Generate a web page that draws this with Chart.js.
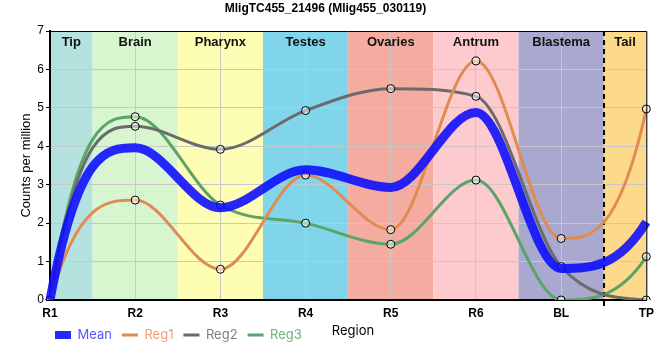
<!DOCTYPE html>
<html>
<head>
<meta charset="utf-8">
<script src="https://cdn.jsdelivr.net/npm/chart.js@4/dist/chart.umd.min.js"></script>
<style>
html,body{margin:0;padding:0;background:#fff;}
#wrap{width:660px;height:360px;position:relative;}
</style>
</head>
<body>
<div id="wrap"><canvas id="c" width="660" height="360"></canvas></div>
<script>
const categories = ["R1","R2","R3","R4","R5","R6","BL","TP"];
const reg1 = [0, 2.60, 0.80, 3.25, 1.83, 6.22, 1.60, 4.97];
const reg2 = [0, 4.52, 3.92, 4.93, 5.50, 5.30, 0.87, 0];
const reg3 = [0, 4.77, 2.47, 2.00, 1.45, 3.12, 0, 1.13];
const meanVals = [0, 3.96, 2.40, 3.39, 2.93, 4.88, 0.82, 2.03];
const regionNames = ["Tip","Brain","Pharynx","Testes","Ovaries","Antrum","Blastema","Tail"];
const regionColors = ["#b4e2de","#d7f5cf","#fefdb4","#80d5eb","#f5aca0","#fdcbcd","#a9a9cf","#fdd98b"];
const yTicks = [0,1,2,3,4,5,6,7];

// end-segment tangent rule: m_end = 3*chord - m_adjacent (applied to library-computed bezier points)
const endTangentPlugin = {
  id: 'endTangent',
  beforeDatasetsDraw(chart) {
    chart.data.datasets.forEach((ds, di) => {
      const meta = chart.getDatasetMeta(di);
      const line = meta.dataset;
      if (!line) return;
      line.updateControlPoints(chart.chartArea, 'x');
      const p = meta.data;
      const n = p.length;
      if (n < 3) return;
      const slopeAt = (q) => (q.cp2x - q.cp1x) !== 0 ? (q.cp2y - q.cp1y) / (q.cp2x - q.cp1x) : 0;
      // start
      {
        const a = p[0], b = p[1];
        const h = b.x - a.x;
        const chord = (b.y - a.y) / h;
        const m0 = 3 * chord - slopeAt(b);
        a.cp2x = a.x + h / 3;
        a.cp2y = a.y + m0 * h / 3;
      }
      // end
      {
        const a = p[n - 2], b = p[n - 1];
        const h = b.x - a.x;
        const chord = (b.y - a.y) / h;
        const m1 = 3 * chord - slopeAt(a);
        b.cp1x = b.x - h / 3;
        b.cp1y = b.y - m1 * h / 3;
      }
      line._path = undefined;
    });
  }
};

const bandsPlugin = {
  id: 'bands',
  beforeDraw(chart) {
    const {ctx, chartArea: a, scales: {x}} = chart;
    ctx.save();
    const n = categories.length;
    for (let i = 0; i < regionNames.length; i++) {
      const l = i === 0 ? a.left : x.getPixelForValue(i - 0.5);
      const r = i === n - 1 ? a.right : x.getPixelForValue(i + 0.5);
      ctx.fillStyle = regionColors[i];
      ctx.fillRect(l, a.top, r - l, a.bottom - a.top);
    }
    ctx.restore();
  },
  beforeDatasetsDraw(chart) {
    const {ctx, chartArea: a, scales: {x}} = chart;
    const n = categories.length;
    ctx.save();
    ctx.font = 'bold 13px "Liberation Sans", Arial, sans-serif';
    ctx.fillStyle = '#111';
    ctx.textAlign = 'center';
    ctx.textBaseline = 'middle';
    for (let i = 0; i < regionNames.length; i++) {
      const l = i === 0 ? a.left : x.getPixelForValue(i - 0.5);
      const r = i === n - 1 ? a.right : x.getPixelForValue(i + 0.5);
      ctx.fillText(regionNames[i], (l + r) / 2, a.top + 11);
    }
    const dx = Math.round(x.getPixelForValue(n - 1.5));
    ctx.strokeStyle = '#000';
    ctx.lineWidth = 2;
    ctx.setLineDash([5, 4]);
    ctx.beginPath();
    ctx.moveTo(dx, a.top);
    ctx.lineTo(dx, a.bottom + 6);
    ctx.stroke();
    ctx.restore();
  },
  afterDraw(chart) {
    const {ctx, chartArea: a} = chart;
    ctx.save();
    ctx.strokeStyle = '#000';
    ctx.lineWidth = 1;
    ctx.beginPath();
    ctx.moveTo(a.left, a.top + 0.5);
    ctx.lineTo(a.right + 0.5, a.top + 0.5);
    ctx.lineTo(a.right + 0.5, a.bottom);
    ctx.stroke();
    ctx.font = '13px Inter, "Noto Sans", sans-serif';
    ctx.fillStyle = '#000';
    ctx.textAlign = 'center';
    ctx.textBaseline = 'middle';
    ctx.fillText('Region', 353, 331);
    ctx.restore();
  },
  afterLayout(chart) {
    const lg = chart.legend;
    if (lg) {
      const w = lg.right - lg.left;
      lg.left = 45; lg.right = 45 + w;
      const h = lg.bottom - lg.top;
      lg.top = 318.5; lg.bottom = 318.5 + h;
    }
  }
};

const regStyle = (color) => ({
  borderColor: color,
  backgroundColor: color,
  borderWidth: 3,
  pointRadius: 4,
  pointHoverRadius: 4,
  pointBorderColor: '#000',
  pointBorderWidth: 1,
  pointBackgroundColor: 'rgba(255,255,255,0.5)',
  cubicInterpolationMode: 'monotone',
  fill: false
});

const legendTextColors = ['#5a55ff', '#f0a070', '#7f7f7f', '#6fb07f'];

new Chart(document.getElementById('c'), {
  type: 'line',
  data: {
    labels: categories,
    datasets: [
      {label: 'Mean', data: meanVals, borderColor: 'rgba(10,10,255,0.88)', backgroundColor: 'rgba(10,10,255,0.88)',
       borderWidth: 9, pointRadius: 0, pointHoverRadius: 0, cubicInterpolationMode: 'monotone', fill: false},
      Object.assign({label: 'Reg1', data: reg1}, regStyle('#e08b52')),
      Object.assign({label: 'Reg2', data: reg2}, regStyle('#6b6b6b')),
      Object.assign({label: 'Reg3', data: reg3}, regStyle('#5aa468'))
    ]
  },
  options: {
    responsive: false,
    animation: false,
    events: [],
    layout: {padding: {left: 0, right: 9, top: 0, bottom: 0}},
    plugins: {
      title: {
        display: true,
        text: 'MligTC455_21496 (Mlig455_030119)',
        color: '#000',
        font: {family: '"Liberation Sans", Arial, sans-serif', size: 12, weight: 'bold'},
        padding: {top: 1, bottom: 15.6}
      },
      legend: {
        display: true,
        position: 'bottom',
        align: 'start',
        labels: {
          usePointStyle: true,
          pointStyleWidth: 16,
          boxHeight: 13,
          padding: 10,
          font: {family: 'Inter, "Noto Sans", sans-serif', size: 13},
          generateLabels(chart) {
            const items = Chart.defaults.plugins.legend.labels.generateLabels(chart);
            return items.map((it, i) => Object.assign(it, {
              pointStyle: 'line',
              lineWidth: i === 0 ? 8 : 3,
              strokeStyle: chart.data.datasets[i].borderColor,
              fillStyle: chart.data.datasets[i].borderColor,
              fontColor: legendTextColors[i]
            }));
          }
        }
      },
      tooltip: {enabled: false}
    },
    scales: {
      x: {
        type: 'category',
        offset: false,
        afterFit(s) { s.height = 27; },
        grid: {color: '#c8c8c8', lineWidth: 1, drawTicks: false},
        border: {display: true, color: '#000', width: 2},
        ticks: {
          color: '#000', padding: 6, maxRotation: 0, autoSkip: false,
          font: {family: '"Liberation Sans", Arial, sans-serif', size: 12, weight: 'bold'}
        }
      },
      y: {
        min: 0, max: 7,
        afterFit(s) { s.width = 50; },
        afterBuildTicks(s) { s.ticks = yTicks.map(v => ({value: v})); },
        grid: {color: '#c8c8c8', lineWidth: 1, tickLength: 4, tickColor: '#000'},
        border: {display: true, color: '#000', width: 2},
        ticks: {
          color: '#000', padding: 2,
          font: {family: '"Liberation Sans", Arial, sans-serif', size: 12}
        },
        title: {
          display: true,
          text: 'Counts per million',
          color: '#000',
          font: {family: '"Liberation Sans", Arial, sans-serif', size: 13},
          padding: {top: 19, bottom: 0}
        }
      }
    }
  },
  plugins: [bandsPlugin, endTangentPlugin]
});
</script>
</body>
</html>
